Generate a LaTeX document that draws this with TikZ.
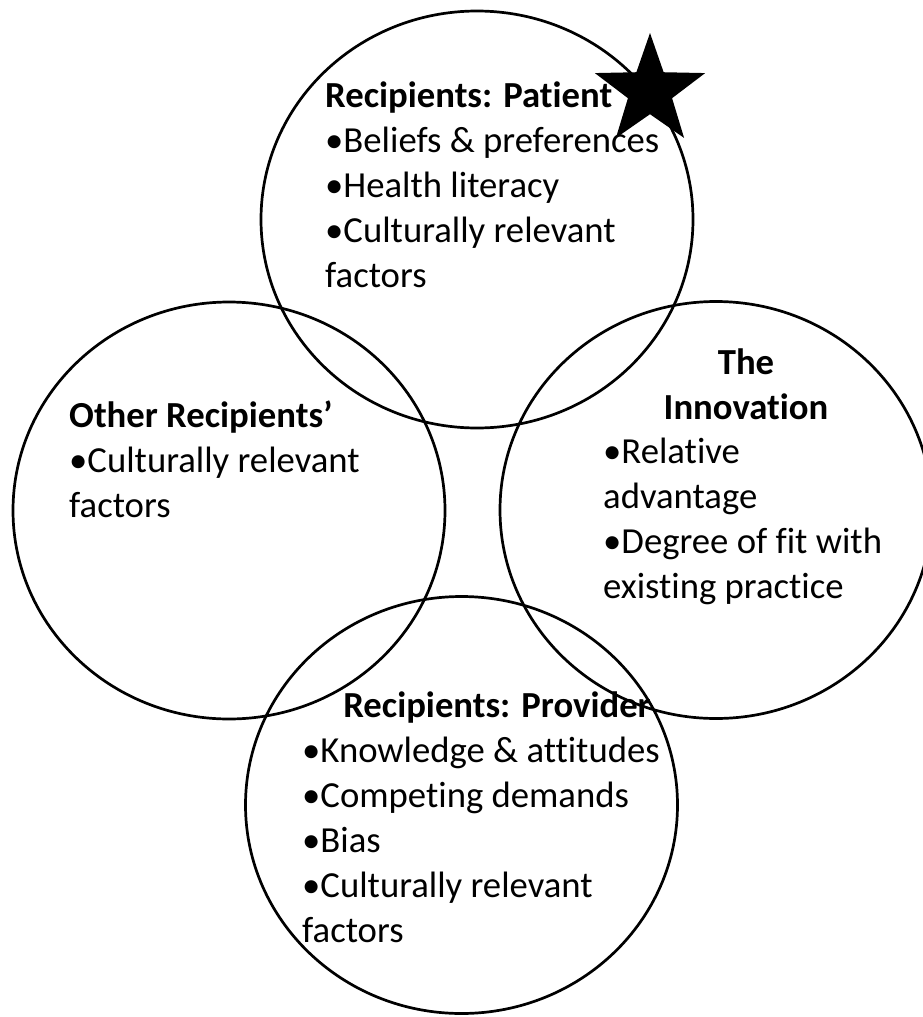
\documentclass[tikz,border=0pt]{standalone}
\usepackage{fontspec}
\setmainfont{Carlito}[Ligatures=NoCommon]
\usepackage{tikz}
\usetikzlibrary{shapes.geometric}

\begin{document}
\begin{tikzpicture}[x=1pt, y=-1pt,
    ring/.style={draw, ellipse, line width=2.7pt, inner sep=0pt,
      minimum width=432pt, minimum height=417pt},
    txt/.style={font=\fontsize{36.7}{44.8}\selectfont, inner sep=0pt,
      align=left, anchor=base west},
    head/.style={txt, align=center, anchor=base}]
  \useasboundingbox (0,0) rectangle (923,1017);
  % the four circles
  \node[ring] (patient) at (477,219.5) {};
  \node[ring] (others) at (229,510.5) {};
  \node[ring] (innov) at (716,510) {};
  \node[ring] (provider) at (461.5,805) {};
  % texts (placed at the baseline of their last line)
  \node[txt] (patienttxt) at (325,287) {\textbf{Recipients: Patient}\\
    •Beliefs \& preferences\\•Health literacy\\•Culturally relevant\\factors};
  \node[txt] (otherstxt) at (69,517) {\textbf{Other Recipients’}\\
    •Culturally relevant\\factors};
  \node[head] (innovhead) at (746,419) {\textbf{The}\\\textbf{Innovation}};
  \node[txt] (innovtxt) at (603,598) {•Relative\\advantage\\
    •Degree of fit with\\existing practice};
  \node[head] (provhead) at (497,717) {\textbf{Recipients: Provider}};
  \node[txt] (provtxt) at (302,942) {•Knowledge \& attitudes\\
    •Competing demands\\•Bias\\•Culturally relevant\\factors};
  % marker
  \node[star, star points=5, star point ratio=2.5, fill=black,
    inner sep=0pt, minimum size=116pt] (mark) at (650,91) {};
\end{tikzpicture}
\end{document}
